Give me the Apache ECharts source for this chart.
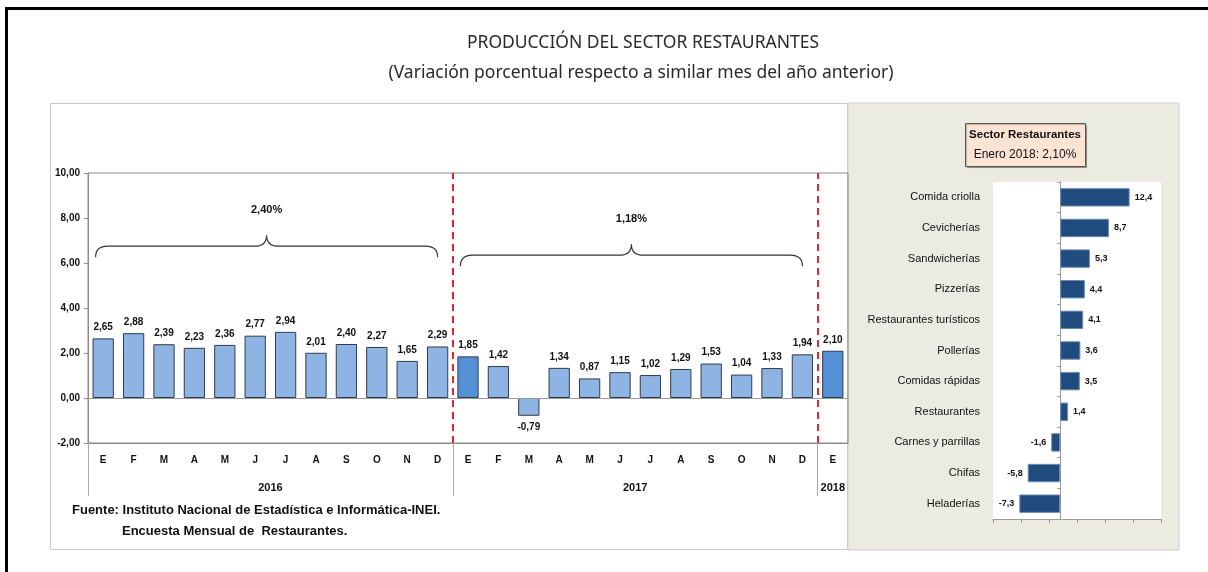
<!DOCTYPE html>
<html>
<head>
<meta charset="utf-8">
<script src="https://cdn.jsdelivr.net/npm/echarts@6/dist/echarts.min.js"></script>
<style>
  html, body { margin: 0; padding: 0; background: #fff; }
  #chart { width: 1208px; height: 572px; }
</style>
</head>
<body>
<div id="chart"></div>
<script>
// ---- datos ----
const monthLetters = ['E', 'F', 'M', 'A', 'M', 'J', 'J', 'A', 'S', 'O', 'N', 'D'];
const years = ['2016', '2017', '2018'];
const monthsPerYear = [12, 12, 1];
const values2016 = [2.65, 2.88, 2.39, 2.23, 2.36, 2.77, 2.94, 2.01, 2.40, 2.27, 1.65, 2.29];
const values2017 = [1.85, 1.42, -0.79, 1.34, 0.87, 1.15, 1.02, 1.29, 1.53, 1.04, 1.33, 1.94];
const values2018 = [2.10];
const yearAverages = [2.40, 1.18]; // promedio 2016, 2017
const yTicks = [-2, 0, 2, 4, 6, 8, 10];

const rubros = ['Comida criolla', 'Cevicherías', 'Sandwicherías', 'Pizzerías', 'Restaurantes turísticos',
  'Pollerías', 'Comidas rápidas', 'Restaurantes', 'Carnes y parrillas', 'Chifas', 'Heladerías'];
const rubroValues = [12.4, 8.7, 5.3, 4.4, 4.1, 3.6, 3.5, 1.4, -1.6, -5.8, -7.3];
const rubroTicks = [-12, -7, -2, 3, 8, 13, 18];
const sectorTotal = 2.10;

// ---- derivados ----
const categories = years.flatMap((y, i) => monthLetters.slice(0, monthsPerYear[i]));
const monthValues = [...values2016, ...values2017, ...values2018];
const yearBounds = [0];
monthsPerYear.forEach(n => yearBounds.push(yearBounds[yearBounds.length - 1] + n));
const yearCenters = years.map((y, i) => (yearBounds[i] + yearBounds[i + 1]) / 2);
const darkIdx = [yearBounds[1], yearBounds[2]]; // enero 2017 y enero 2018

const comma = (v, d) => v.toFixed(d).replace('.', ',');
const NARROW = "'Liberation Sans Narrow', 'Liberation Sans', sans-serif";
const braceLevels = [6.75, 6.35];

const chart = echarts.init(document.getElementById('chart'));

const option = {
  animation: false,
  textStyle: { fontFamily: NARROW },
  graphic: [
    // marco negro
    { type: 'polyline', z: -10, shape: { points: [[6.5, 572], [6.5, 8.5], [1208, 8.5]] }, style: { stroke: '#000', lineWidth: 3, fill: null } },
    // paneles
    { type: 'rect', z: -10, shape: { x: 50.5, y: 103.5, width: 797, height: 446 }, style: { fill: '#fff', stroke: '#c9c9c9', lineWidth: 1 } },
    { type: 'rect', z: -10, shape: { x: 848, y: 103, width: 331, height: 447 }, style: { fill: '#ecebe1', stroke: '#cfcfcf', lineWidth: 1 } },
    // títulos
    { type: 'text', x: 643, y: 43, style: { text: 'PRODUCCIÓN DEL SECTOR RESTAURANTES', fill: '#2a2a2a', font: "17.5px 'Noto Sans', sans-serif", textAlign: 'center', textVerticalAlign: 'middle' } },
    { type: 'text', x: 641, y: 73, style: { text: '(Variación porcentual respecto a similar mes del año anterior)', fill: '#2a2a2a', font: "17.5px 'Noto Sans', sans-serif", textAlign: 'center', textVerticalAlign: 'middle' } },
    // fuente
    { type: 'text', x: 72, y: 510, style: { text: 'Fuente: Instituto Nacional de Estadística e Informática-INEI.', fill: '#111', font: 'bold 13px ' + NARROW, textVerticalAlign: 'middle' } },
    { type: 'text', x: 122, y: 531, style: { text: 'Encuesta Mensual de  Restaurantes.', fill: '#111', font: 'bold 13px ' + NARROW, textVerticalAlign: 'middle' } },
    // recuadro sector
    { type: 'rect', shape: { x: 965.5, y: 123.5, width: 120, height: 43 }, style: { fill: '#fbe4d3', stroke: '#555', lineWidth: 1, shadowColor: 'rgba(0,0,0,0.25)', shadowOffsetX: 1, shadowOffsetY: 1, shadowBlur: 1 } },
    { type: 'text', x: 1025, y: 135, style: { text: 'Sector Restaurantes', fill: '#111', font: 'bold 11.5px ' + NARROW, textAlign: 'center', textVerticalAlign: 'middle' } },
    { type: 'text', x: 1025, y: 155, style: { text: 'Enero ' + years[2] + ': ' + comma(sectorTotal, 2) + '%', fill: '#111', font: '12px ' + NARROW, textAlign: 'center', textVerticalAlign: 'middle' } }
  ],
  grid: [
    { left: 88, right: 360, top: 173, bottom: 129, show: true, borderColor: '#8a8a8a', borderWidth: 1, backgroundColor: 'transparent' },
    { left: 993, right: 47, top: 182, bottom: 53, show: true, borderWidth: 0, backgroundColor: '#fff' }
  ],
  xAxis: [
    {
      gridIndex: 0, type: 'category', data: categories, position: 'bottom',
      axisLine: { onZero: false, lineStyle: { color: '#8a8a8a' } },
      axisTick: { show: false },
      axisLabel: { color: '#111', fontWeight: 'bold', fontSize: 10, margin: 12, interval: 0 }
    },
    {
      gridIndex: 0, type: 'value', min: 0, max: yearBounds[yearBounds.length - 1], position: 'bottom',
      axisLine: { show: false, onZero: false },
      splitLine: { show: false },
      axisTick: { show: true, customValues: yearBounds.slice(0, -1), length: 53, lineStyle: { color: '#aaa' } },
      axisLabel: {
        customValues: yearCenters, margin: 39, color: '#111', fontWeight: 'bold', fontSize: 11,
        formatter: v => years[yearCenters.indexOf(v)] || ''
      }
    },
    {
      gridIndex: 1, type: 'value', min: rubroTicks[0], max: rubroTicks[rubroTicks.length - 1],
      axisLine: { show: true, onZero: false, lineStyle: { color: '#9a9a9a' } },
      axisTick: { show: true, customValues: rubroTicks, length: 4, lineStyle: { color: '#9a9a9a' } },
      axisLabel: { show: false },
      splitLine: { show: false }
    }
  ],
  yAxis: [
    {
      gridIndex: 0, type: 'value', min: yTicks[0], max: yTicks[yTicks.length - 1], interval: 2,
      axisLine: { show: true, onZero: false, lineStyle: { color: '#8a8a8a' } },
      axisTick: { show: true, length: 4, lineStyle: { color: '#8a8a8a' } },
      axisLabel: { color: '#111', fontWeight: 'bold', fontSize: 10, margin: 8, formatter: v => comma(v, 2) },
      splitLine: { show: false }
    },
    {
      gridIndex: 1, type: 'category', data: rubros, inverse: true,
      axisLine: { show: false, onZero: false },
      axisTick: { show: false },
      axisLabel: { color: '#111', fontSize: 11, margin: 13 }
    },
    {
      gridIndex: 1, type: 'category', data: rubros, inverse: true, position: 'left',
      axisLine: { show: true, onZero: true, lineStyle: { color: '#9a9a9a' } },
      axisTick: { show: true, length: 3, lineStyle: { color: '#9a9a9a' } },
      axisLabel: { show: false }
    }
  ],
  series: [
    {
      type: 'bar', xAxisIndex: 0, yAxisIndex: 0, barCategoryGap: '30%',
      data: monthValues.map((v, i) => ({
        value: v,
        itemStyle: { color: darkIdx.includes(i) ? '#5590d6' : '#8db4e2' },
        label: { position: v < 0 ? 'bottom' : 'top' }
      })),
      itemStyle: { borderColor: '#2f3b4a', borderWidth: 1 },
      label: { show: true, color: '#111', fontWeight: 'bold', fontSize: 10, distance: 6, formatter: p => comma(p.value, 2) },
      markLine: {
        silent: true, symbol: 'none', label: { show: false },
        lineStyle: { color: '#9a9a9a', type: 'solid', width: 1 },
        data: [{ yAxis: 0 }]
      }
    },
    {
      type: 'custom', xAxisIndex: 1, yAxisIndex: 0, clip: false,
      encode: { x: [0, 1], y: 2 },
      data: yearAverages.map((v, i) => [yearBounds[i] + 0.25, yearBounds[i + 1] - 0.5, braceLevels[i]]),
      renderItem: (params, api) => {
        const a = api.coord([api.value(0), api.value(2)]);
        const b = api.coord([api.value(1), api.value(2)]);
        const y = a[1], x0 = a[0], x1 = b[0], xm = (x0 + x1) / 2;
        const d = 11, r = 12;
        const path = 'M' + x0 + ',' + (y + d) + ' Q' + x0 + ',' + y + ' ' + (x0 + r) + ',' + y +
          ' L' + (xm - r) + ',' + y + ' Q' + xm + ',' + y + ' ' + xm + ',' + (y - d) +
          ' Q' + xm + ',' + y + ' ' + (xm + r) + ',' + y +
          ' L' + (x1 - r) + ',' + y + ' Q' + x1 + ',' + y + ' ' + x1 + ',' + (y + d);
        return {
          type: 'group',
          children: [
            { type: 'path', shape: { pathData: path }, style: { fill: null, stroke: '#333', lineWidth: 1.2 } },
            { type: 'text', x: xm, y: y - 36, style: { text: comma(yearAverages[params.dataIndex], 2) + '%', fill: '#111', font: 'bold 11px ' + NARROW, textAlign: 'center', textVerticalAlign: 'middle' } }
          ]
        };
      },
      markLine: {
        silent: true, symbol: 'none', label: { show: false },
        lineStyle: { color: '#e1262c', type: [7, 5], width: 2 },
        data: yearBounds.slice(1, -1).map(v => ({ xAxis: v }))
      }
    },
    {
      type: 'bar', xAxisIndex: 2, yAxisIndex: 1, barCategoryGap: '40%',
      data: rubroValues.map(v => ({ value: v, label: { position: v < 0 ? 'left' : 'right' } })),
      itemStyle: { color: '#1f4b7e', borderColor: '#6a8ab3', borderWidth: 1 },
      label: { show: true, color: '#111', fontWeight: 'bold', fontSize: 9, distance: 5, formatter: p => comma(p.value, 1) }
    }
  ]
};

chart.setOption(option);
</script>
</body>
</html>
